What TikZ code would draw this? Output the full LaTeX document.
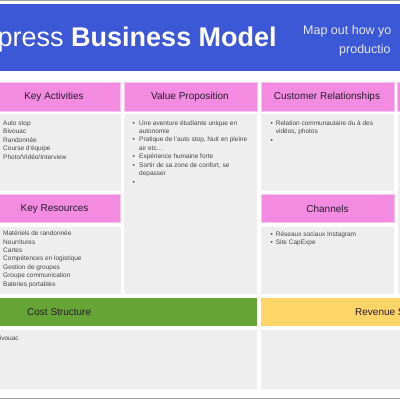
\documentclass[tikz,border=0pt]{standalone}
\usepackage{fontspec}
\setmainfont{Liberation Sans}
\definecolor{bannerblue}{RGB}{60,88,214}
\definecolor{hdrpink}{RGB}{243,139,225}
\definecolor{hdrpinkedge}{RGB}{250,196,242}
\definecolor{cellgray}{RGB}{238,238,238}
\definecolor{costgreen}{RGB}{102,164,54}
\definecolor{revyellow}{RGB}{255,213,104}
\definecolor{hdrtext}{RGB}{38,28,44}
\definecolor{bodytext}{RGB}{70,70,70}
\definecolor{subtext}{RGB}{228,233,255}
\definecolor{rulegray}{RGB}{160,160,160}
\begin{document}
\begin{tikzpicture}[x=1pt,y=-1pt,
  hdr/.style={fill=hdrpink, draw=hdrpinkedge, line width=0.8pt},
  cell/.style={fill=cellgray},
  htext/.style={font=\fontsize{10}{12}\selectfont, text=hdrtext, inner sep=0pt},
  btext/.style={font=\fontsize{6.5}{8.5}\selectfont, text=bodytext, inner sep=0pt, anchor=base west},
  bul/.style={font=\fontsize{6.5}{8.5}\selectfont, text=bodytext, inner sep=0pt, anchor=base west},
]
\useasboundingbox (0,0) rectangle (400,400);
\begin{scope}
\clip (0,0) rectangle (400,400);
% rules and banner
\fill[rulegray] (0,0) rectangle (400,1.3);
\fill[rulegray] (0,397.6) rectangle (400,399.2);
\fill[bannerblue] (0,4) rectangle (400,71);
\node[anchor=base west, inner sep=0pt, text=white, font=\fontsize{27}{30}\selectfont] (title) at (-2.5,46) {press \textbf{Business Model}};
\node[anchor=base west, inner sep=0pt, text=subtext, font=\fontsize{12.5}{15}\selectfont] (sub1) at (303,34.5) {Map out how yo};
\node[anchor=base west, inner sep=0pt, text=subtext, font=\fontsize{12.5}{15}\selectfont] (sub2) at (339,53.5) {productio};

% column 1
\draw[hdr] (-12,82.3) rectangle (120.7,111);
\fill[cell] (-12,114) rectangle (120.7,191);
\draw[hdr] (-12,194.5) rectangle (120.7,222.5);
\fill[cell] (-12,226.5) rectangle (120.7,294);
% column 2
\draw[hdr] (124.3,82.3) rectangle (257,111);
\fill[cell] (124.3,114) rectangle (257,294);
% column 3
\draw[hdr] (261,82.3) rectangle (394,111);
\fill[cell] (261,114) rectangle (394,191);
\draw[hdr] (261,194.5) rectangle (394,222.5);
\fill[cell] (261,226.5) rectangle (394,294);
% column 4
\draw[hdr] (397.5,82.3) rectangle (530,111);
\fill[cell] (397.5,114) rectangle (530,294);
% bottom row
\fill[costgreen] (-12,298.3) rectangle (257,326);
\fill[cell] (-12,330) rectangle (257,389);
\fill[revyellow] (261,298.3) rectangle (530,326);
\fill[cell] (261,330) rectangle (530,389);

% headers
\node[htext] (ka) at (54,96.7) {Key Activities};
\node[htext] (vp) at (190,96.7) {Value Proposition};
\node[htext] (cr) at (327,96.7) {Customer Relationships};
\node[htext] (kr) at (54.5,209) {Key Resources};
\node[htext] (ch) at (327.5,209) {Channels};
\node[htext, anchor=west] (cs) at (27,312) {Cost Structure};
\node[htext, anchor=west] (rs) at (355,312) {Revenue S};

% key activities
\node[btext] (ka1) at (3,125) {Auto stop};
\node[btext] (ka2) at (3,133.5) {Bivouac};
\node[btext] (ka3) at (3,142.1) {Randonnée};
\node[btext] (ka4) at (3,150.7) {Course d’équipe};
\node[btext] (ka5) at (3,159.3) {Photo/Vidéo/Interview};

% key resources
\node[btext] (kr1) at (3,235.6) {Matériels de randonnée};
\node[btext] (kr2) at (3,244) {Nourritures};
\node[btext] (kr3) at (3,252.3) {Cartes};
\node[btext] (kr4) at (3,260.8) {Compétences en logistique};
\node[btext] (kr5) at (3,269.3) {Gestion de groupes};
\node[btext] (kr6) at (3,277.7) {Groupe communication};
\node[btext] (kr7) at (3,286.3) {Bateries portables};

% value proposition
\node[bul] (vpb1) at (132.5,125) {•};
\node[btext] (vp1a) at (139,125) {Une aventure étudiante unique en};
\node[btext] (vp1b) at (139,133.2) {autonomie};
\node[bul] (vpb2) at (132.5,141.6) {•};
\node[btext] (vp2a) at (139,141.6) {Pratique de l’auto stop, Nuit en pleine};
\node[btext] (vp2b) at (139,150) {air etc...};
\node[bul] (vpb3) at (132.5,158.6) {•};
\node[btext] (vp3) at (139,158.6) {Expérience humaine forte};
\node[bul] (vpb4) at (132.5,167) {•};
\node[btext] (vp4a) at (139,167) {Sortir de sa zone de confort, se};
\node[btext] (vp4b) at (139,175.3) {depasser};
\node[bul] (vpb5) at (132.5,184.3) {•};

% customer relationships
\node[bul] (crb1) at (270.5,125) {•};
\node[btext] (cr1a) at (275.7,125) {Relation communautaire du à des};
\node[btext] (cr1b) at (275.7,133.3) {vidéos, photos};
\node[bul] (crb2) at (270.5,142.3) {•};

% channels
\node[bul] (chb1) at (270.5,236.3) {•};
\node[btext] (ch1) at (275.7,236.3) {Réseaux sociaux Instagram};
\node[bul] (chb2) at (270.5,244.6) {•};
\node[btext] (ch2) at (275.7,244.6) {Site CapExpe};

% cost structure
\node[btext] (cs1) at (-0.3,340.3) {ivouac};
\end{scope}
\end{tikzpicture}
\end{document}
